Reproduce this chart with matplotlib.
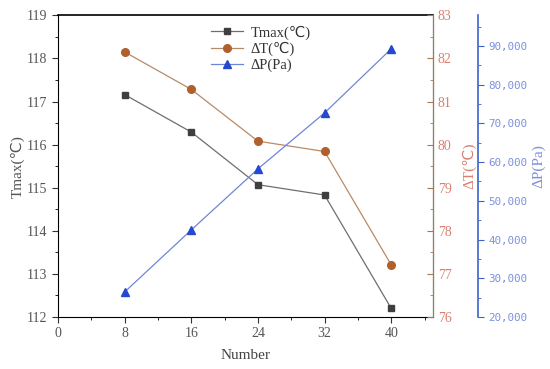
import numpy as np
import matplotlib.pyplot as plt
from matplotlib.ticker import MultipleLocator, FuncFormatter

plt.rcParams['font.family'] = ['Liberation Serif', 'DejaVu Sans']

# data
number = [8, 16, 24, 32, 40]
tmax = [117.16, 116.29, 115.07, 114.83, 112.20]
delta_t = [82.15, 81.28, 80.08, 79.84, 77.21]
delta_p = [26460, 42480, 58240, 72700, 89230]

fig = plt.figure(figsize=(5.5, 3.69), dpi=100)
ax = fig.add_axes([0.1055, 0.141, 0.6815, 0.8175])
ax2 = ax.twinx()
ax3 = ax.twinx()

l1, = ax.plot(number, tmax, color='#6e6e6e', lw=0.9, marker='s', ms=5,
              mfc='#3f3f3f', mec='#3f3f3f', label='Tmax(\u2103)')
l2, = ax2.plot(number, delta_t, color='#b98a66', lw=0.9, marker='o', ms=5.5,
               mfc='#b0602c', mec='#b0602c', label='\u0394T(\u2103)')
l3, = ax3.plot(number, delta_p, color='#6f86d6', lw=0.9, marker='^', ms=6,
               mfc='#2548d0', mec='#2548d0', label='\u0394P(Pa)')

ax.set_xlim(0, 45)
ax.set_ylim(112, 119)
ax2.set_ylim(76, 83)
ax3.set_ylim(20000, 97900)

ax.xaxis.set_major_locator(MultipleLocator(8))
ax.xaxis.set_minor_locator(MultipleLocator(4))
ax.yaxis.set_major_locator(MultipleLocator(1))
ax.yaxis.set_minor_locator(MultipleLocator(0.5))
ax2.yaxis.set_major_locator(MultipleLocator(1))
ax2.yaxis.set_minor_locator(MultipleLocator(0.5))
ax3.yaxis.set_major_locator(MultipleLocator(10000))
ax3.yaxis.set_minor_locator(MultipleLocator(5000))
ax3.yaxis.set_major_formatter(FuncFormatter(lambda v, p: f'{int(v):,}'))

ax.tick_params(axis='both', which='major', direction='out', length=4,
               labelsize=10, colors='#333333', labelcolor='#555555')
ax.tick_params(axis='both', which='minor', direction='out', length=2.5)
ax.tick_params(axis='x', top=False)
ax.spines['top'].set_linewidth(1.2)

brown = '#a8784a'
ax2.spines['right'].set_color(brown)
ax2.tick_params(axis='y', which='major', direction='in', length=4,
                colors=brown, labelcolor='#d98070', labelsize=10)
ax2.tick_params(axis='y', which='minor', direction='in', length=2.5, colors=brown)

blue = '#3a62cc'
ax3.spines['right'].set_position(('outward', 32.4))
ax3.spines['right'].set_color(blue)
ax3.spines['right'].set_linewidth(1.2)
ax3.tick_params(axis='y', which='major', direction='out', length=4,
                colors=blue, labelcolor='#7d90dc', labelsize=7.8)
ax3.tick_params(axis='y', which='minor', direction='out', length=2.5, colors=blue)
for lab in ax3.get_yticklabels():
    lab.set_family(['DejaVu Sans Mono'])

for a in (ax2, ax3):
    a.spines['top'].set_visible(False)
    a.spines['left'].set_visible(False)
    a.spines['bottom'].set_visible(False)

ax.set_xlabel('Number', fontsize=11, color='#444444', labelpad=6)
ax.set_ylabel('Tmax(\u2103)', fontsize=11, color='#555555', labelpad=2)
ax2.set_ylabel('\u0394T(\u2103)', fontsize=11, color='#d98070')
ax2.yaxis.set_label_coords(1.077, 0.5)
ax3.set_ylabel('\u0394P(Pa)', fontsize=11, color='#7d90dc')
ax3.yaxis.set_label_coords(1.264, 0.5)

leg = ax.legend(handles=[l1, l2, l3], loc='upper left',
                bbox_to_anchor=(0.374, 1.01), frameon=False, fontsize=10.5,
                handlelength=2.2, labelspacing=0.15, handletextpad=0.5)
for t in leg.get_texts():
    t.set_color('#333333')

fig.savefig('out.png', dpi=100)
